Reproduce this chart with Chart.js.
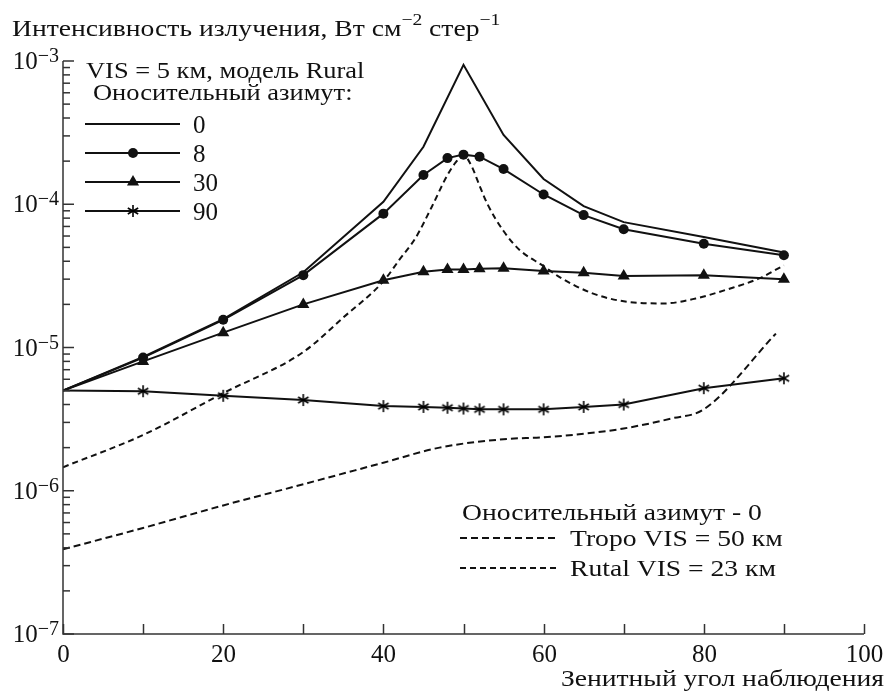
<!DOCTYPE html>
<html>
<head>
<meta charset="utf-8">
<script src="https://cdn.jsdelivr.net/npm/chart.js@4.4.1/dist/chart.umd.min.js"></script>
<style>
  html, body { margin: 0; padding: 0; background: #fff; }
  #wrap { width: 887px; height: 693px; }
</style>
</head>
<body>
<div id="wrap"><canvas id="chart" width="887" height="693"></canvas></div>
<script>
// zenith angles and intensities
const xAzim0 = [0, 10, 20, 30, 40, 45, 50, 55, 60, 65, 70, 80, 90];
const yAzim0 = [5e-6, 8.6e-6, 1.58e-5, 3.35e-5, 1.04e-4, 2.52e-4, 9.4e-4, 3.05e-4, 1.5e-4, 9.7e-5, 7.5e-5, 5.9e-5, 4.6e-5];

const xMarked = [0, 10, 20, 30, 40, 45, 48, 50, 52, 55, 60, 65, 70, 80, 90];
const yAzim8 = [5e-6, 8.5e-6, 1.56e-5, 3.2e-5, 8.6e-5, 1.6e-4, 2.1e-4, 2.22e-4, 2.15e-4, 1.76e-4, 1.17e-4, 8.4e-5, 6.7e-5, 5.3e-5, 4.4e-5];
const yAzim30 = [5e-6, 8.0e-6, 1.27e-5, 2.0e-5, 2.95e-5, 3.38e-5, 3.5e-5, 3.5e-5, 3.55e-5, 3.58e-5, 3.42e-5, 3.32e-5, 3.15e-5, 3.2e-5, 3.0e-5];
const yAzim90 = [5e-6, 4.95e-6, 4.6e-6, 4.3e-6, 3.9e-6, 3.85e-6, 3.8e-6, 3.75e-6, 3.7e-6, 3.7e-6, 3.7e-6, 3.85e-6, 4.0e-6, 5.2e-6, 6.1e-6];

const xRural = [0, 10, 20, 30, 35, 40, 42, 44, 46, 48, 49, 50, 51, 52, 53, 55, 57, 60, 62, 66, 70, 75, 79, 83, 87, 90];
const yRural = [1.46e-6, 2.45e-6, 4.8e-6, 9.3e-6, 1.62e-5, 2.9e-5, 4.1e-5, 5.8e-5, 9.5e-5, 1.6e-4, 1.95e-4, 2.2e-4, 1.85e-4, 1.35e-4, 1.0e-4, 6.5e-5, 4.8e-5, 3.7e-5, 3.1e-5, 2.4e-5, 2.1e-5, 2.03e-5, 2.2e-5, 2.55e-5, 3.05e-5, 3.75e-5];

const xTropo = [0, 10, 20, 30, 40, 47, 55, 60, 65, 70, 76, 80, 89];
const yTropo = [3.9e-7, 5.5e-7, 7.9e-7, 1.11e-6, 1.57e-6, 2.0e-6, 2.29e-6, 2.36e-6, 2.5e-6, 2.72e-6, 3.2e-6, 3.7e-6, 1.25e-5];

const xTickValues = [0, 10, 20, 30, 40, 50, 60, 70, 80, 90, 100];
const xTickLabels = ['0', '', '20', '', '40', '', '60', '', '80', '', '100'];
const yTickExps = [-3, -4, -5, -6, -7];

const SERIF = '"Liberation Serif", "DejaVu Serif", serif';
const INK = '#111';
const STRETCH = 1.15; // the printed Cyrillic face is wider than Liberation Serif

function pts(xs, ys) {
  return xs.map((x, i) => ({ x: x, y: ys[i] }));
}

// six-armed asterisk marker like the printed "*"
function makeStar() {
  const c = document.createElement('canvas');
  c.width = 14; c.height = 14;
  const g = c.getContext('2d');
  g.strokeStyle = '#000';
  g.lineWidth = 1.6;
  for (const a of [90, 30, 150]) {
    const r = a * Math.PI / 180;
    g.beginPath();
    g.moveTo(7 - 6 * Math.cos(r), 7 - 6 * Math.sin(r));
    g.lineTo(7 + 6 * Math.cos(r), 7 + 6 * Math.sin(r));
    g.stroke();
  }
  return c;
}
const starImg = makeStar();

// markers are not drawn at the common start point x = 0
const markRadius = (r) => xMarked.map((x) => (x === 0 ? 0 : r));

function solid(label, data, style, radius) {
  return {
    label: label,
    data: data,
    borderColor: INK,
    backgroundColor: INK,
    borderWidth: 2,
    pointStyle: style,
    pointRadius: radius,
    pointHoverRadius: radius,
    pointBorderWidth: 0,
    tension: 0,
    fill: false,
  };
}

function dashed(label, data, dash) {
  return {
    label: label,
    data: data,
    borderColor: INK,
    borderWidth: 2,
    borderDash: dash,
    pointRadius: 0,
    cubicInterpolationMode: 'monotone',
    fill: false,
  };
}

// draws text widened horizontally, returns advance width
function wideText(ctx, text, x, y, size, align) {
  ctx.font = size + 'px ' + SERIF;
  const w = ctx.measureText(text).width * STRETCH;
  let left = x;
  if (align === 'right') left = x - w;
  ctx.save();
  ctx.translate(left, y);
  ctx.scale(STRETCH, 1);
  ctx.textAlign = 'left';
  ctx.textBaseline = 'alphabetic';
  ctx.fillText(text, 0, 0);
  ctx.restore();
  return w;
}

const axesAndLegends = {
  id: 'axesAndLegends',
  afterDraw(chart) {
    const ctx = chart.ctx;
    const xs = chart.scales.x;
    const ys = chart.scales.y;
    const a = chart.chartArea;
    ctx.save();
    ctx.strokeStyle = '#333';
    ctx.fillStyle = INK;
    ctx.lineWidth = 1.5;

    // axis lines
    ctx.beginPath();
    ctx.moveTo(a.left, a.top);
    ctx.lineTo(a.left, a.bottom);
    ctx.lineTo(a.right, a.bottom);
    ctx.stroke();

    // x ticks (inward)
    xTickValues.forEach((v, i) => {
      const px = Math.round(xs.getPixelForValue(v)) + 0.5;
      ctx.beginPath();
      ctx.moveTo(px, a.bottom);
      ctx.lineTo(px, a.bottom - 10);
      ctx.stroke();
      if (xTickLabels[i]) {
        ctx.font = '25px ' + SERIF;
        ctx.textAlign = 'center';
        ctx.textBaseline = 'alphabetic';
        ctx.fillText(xTickLabels[i], px, a.bottom + 28);
      }
    });

    // y ticks: decades long, 2..9 short
    yTickExps.forEach((e) => {
      const py = ys.getPixelForValue(Math.pow(10, e));
      ctx.beginPath();
      ctx.moveTo(a.left, py);
      ctx.lineTo(a.left + 11, py);
      ctx.stroke();
      if (e > -7) {
        for (let m = 2; m <= 9; m++) {
          const q = ys.getPixelForValue(m * Math.pow(10, e - 1));
          ctx.beginPath();
          ctx.moveTo(a.left, q);
          ctx.lineTo(a.left + 7, q);
          ctx.stroke();
        }
      }
      // label "10" with superscript exponent
      ctx.textAlign = 'left';
      ctx.textBaseline = 'alphabetic';
      const sup = '\u2212' + Math.abs(e);
      ctx.font = '20px ' + SERIF;
      const supW = ctx.measureText(sup).width;
      ctx.font = '25px ' + SERIF;
      const tenW = ctx.measureText('10').width;
      const right = a.left - 4;
      ctx.fillText('10', right - supW - tenW, py + 8);
      ctx.font = '20px ' + SERIF;
      ctx.fillText(sup, right - supW, py + 1);
    });

    // y axis title with superscripts
    let tx = 12;
    const parts = [
      ['Интенсивность излучения, Вт см', 24, 36],
      ['\u22122', 17, 25],
      [' стер', 24, 36],
      ['\u22121', 17, 25],
    ];
    parts.forEach((p) => {
      tx += wideText(ctx, p[0], tx, p[2], p[1], 'left');
    });

    // x axis title
    wideText(ctx, 'Зенитный угол наблюдения', 884, 686, 24, 'right');

    // upper-left legend
    wideText(ctx, 'VIS = 5 км, модель Rural', 86, 78, 23, 'left');
    wideText(ctx, 'Оносительный азимут:', 93, 100, 23, 'left');
    const rows = [
      ['0', null, 0],
      ['8', 'circle', 5],
      ['30', 'triangle', 7],
      ['90', starImg, 7],
    ];
    rows.forEach((r, i) => {
      const y = 124 + i * 29;
      ctx.strokeStyle = INK;
      ctx.lineWidth = 2;
      ctx.setLineDash([]);
      ctx.beginPath();
      ctx.moveTo(85, y);
      ctx.lineTo(180, y);
      ctx.stroke();
      if (r[1]) {
        ctx.fillStyle = INK;
        Chart.helpers.drawPoint(ctx, { pointStyle: r[1], radius: r[2], rotation: 0, borderWidth: 0 }, 133, y);
      }
      ctx.fillStyle = INK;
      ctx.font = '25px ' + SERIF;
      ctx.textAlign = 'left';
      ctx.fillText(r[0], 193, y + 9);
    });

    // lower-right legend
    wideText(ctx, 'Оносительный азимут - 0', 462, 520, 24, 'left');
    const dashRows = [
      ['Tropo VIS = 50 км', [7, 4], 538],
      ['Rutal VIS = 23 км', [6, 4], 568],
    ];
    dashRows.forEach((d) => {
      ctx.strokeStyle = INK;
      ctx.setLineDash(d[1]);
      ctx.lineWidth = 2;
      ctx.beginPath();
      ctx.moveTo(460, d[2]);
      ctx.lineTo(556, d[2]);
      ctx.stroke();
      ctx.setLineDash([]);
      wideText(ctx, d[0], 570, d[2] + 8, 24, 'left');
    });
    ctx.restore();
  },
};

new Chart(document.getElementById('chart').getContext('2d'), {
  type: 'line',
  data: {
    datasets: [
      solid('0', pts(xAzim0, yAzim0), 'circle', 0),
      solid('8', pts(xMarked, yAzim8), 'circle', markRadius(5)),
      solid('30', pts(xMarked, yAzim30), 'triangle', markRadius(7)),
      solid('90', pts(xMarked, yAzim90), starImg, markRadius(7)),
      dashed('Rutal VIS = 23 км', pts(xRural, yRural), [6, 4]),
      dashed('Tropo VIS = 50 км', pts(xTropo, yTropo), [7, 4]),
    ],
  },
  options: {
    responsive: false,
    animation: false,
    devicePixelRatio: 1,
    layout: { padding: { left: 63, right: 23, top: 61, bottom: 59 } },
    scales: {
      x: { type: 'linear', min: 0, max: 100, display: false },
      y: { type: 'logarithmic', min: 1e-7, max: 1e-3, display: false },
    },
    plugins: {
      legend: { display: false },
      tooltip: { enabled: false },
    },
    elements: { line: { borderCapStyle: 'butt', borderJoinStyle: 'miter' } },
  },
  plugins: [axesAndLegends],
});
</script>
</body>
</html>
